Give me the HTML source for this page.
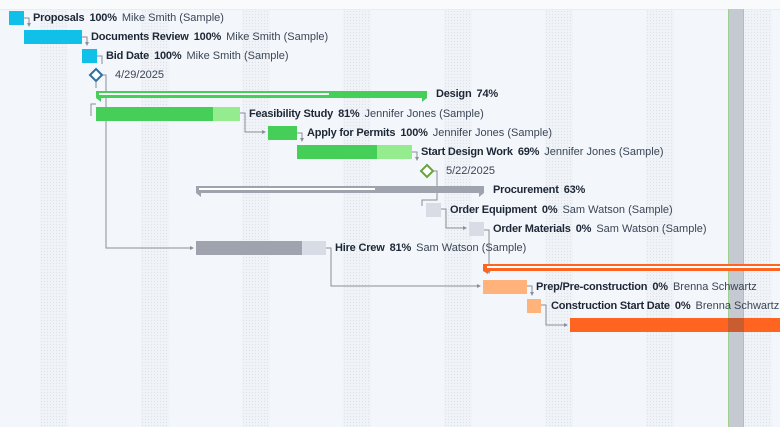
<!DOCTYPE html>
<html><head><meta charset="utf-8"><style>
body{margin:0;width:780px;height:427px;overflow:hidden;background:#f3f6fa;font-family:"Liberation Sans",sans-serif;position:relative}
.top{position:absolute;left:0;top:0;width:780px;height:9px;background:#f8fafc;border-bottom:1px solid #e8edf3}
.we{position:absolute;top:10px;height:417px;width:28px;background-image:radial-gradient(#dde1e8 0.7px,transparent 0.8px);background-size:3px 3px;background-color:#f0f3f7}
.b{position:absolute;height:14px}
.t{position:absolute;font-size:11px;color:#3b4656;white-space:nowrap;line-height:14px;top:0}
.t b{color:#1d2735;font-weight:bold;margin-right:2px;letter-spacing:-0.2px}
svg{position:absolute;left:0;top:0}
</style></head><body>
<div class="top"></div>
<div class="we" style="left:40px"></div>
<div class="we" style="left:141px"></div>
<div class="we" style="left:242px"></div>
<div class="we" style="left:343px"></div>
<div class="we" style="left:444px"></div>
<div class="we" style="left:545px"></div>
<div class="we" style="left:646px"></div>
<div class="we" style="left:744px"></div>
<div style="position:absolute;left:728px;top:9px;width:14px;height:418px;background:#c5c9d1;border-left:1px solid #9fd08f;border-right:1px solid #9fd08f"></div>

<svg width="780" height="427">
<g stroke="#8a909a" stroke-width="1" fill="none">
<path d="M24 18H29V26"/><path d="M82 37H87V45"/><path d="M97 56H102V64"/>
<path d="M96 82V88"/><path d="M101 75H106V248H192"/>
<path d="M96 104H91V116"/>
<path d="M240 113H245V132H264"/><path d="M297 133H302V141"/><path d="M412 152H417V160"/>
<path d="M432 171H437V200H422V206"/><path d="M441 209H446V228H465"/>
<path d="M484 230H489V271"/><path d="M326 248H331V286H479"/>
<path d="M527 286H532V294"/><path d="M541 305H546V325H566"/>
</g>
<g fill="#8a909a"><path d="M27 23l2 4 2-4z"/><path d="M85 42l2 4 2-4z"/><path d="M262 130v4l4-2z"/><path d="M300 138l2 4 2-4z"/><path d="M415 157l2 4 2-4z"/><path d="M190 246v4l4-2z"/><path d="M463 226v4l4-2z"/><path d="M477 284v4l4-2z"/><path d="M564 323v4l4-2z"/><path d="M487 270l2 4 2-4z"/><path d="M530 292l2 4 2-4z"/></g>
<path d="M96 69l6 6-6 6-6-6z" fill="#fff" stroke="#2f6fa0" stroke-width="2"/>
<path d="M427 165l6 6-6 6-6-6z" fill="#fff" stroke="#6aa33a" stroke-width="2"/>
<path d="M96 91H427V98L422 102V98H101V102L96 98Z" fill="#45cf58"/>
<rect x="99" y="93" width="230" height="2" fill="#fff"/>
<path d="M196 186H484V193L479 197V193H201V197L196 193Z" fill="#9ea3ad"/>
<rect x="199" y="188" width="176" height="2" fill="#fff"/>
<path d="M483 264H780V271H488V274L483 271Z" fill="#ff6420"/>
<rect x="487" y="266" width="293" height="2" fill="#fff"/>
</svg>

<div class="b" style="left:9px;top:11px;width:15px;background:#10c0e8"></div>
<div class="t" style="left:33px;top:11px"><b>Proposals</b> <b>100%</b> Mike Smith (Sample)</div>
<div class="b" style="left:24px;top:30px;width:58px;background:#10c0e8"></div>
<div class="t" style="left:91px;top:30px"><b>Documents Review</b> <b>100%</b> Mike Smith (Sample)</div>
<div class="b" style="left:82px;top:49px;width:15px;background:#10c0e8"></div>
<div class="t" style="left:106px;top:49px"><b>Bid Date</b> <b>100%</b> Mike Smith (Sample)</div>
<div class="t" style="left:115px;top:68px">4/29/2025</div>
<div class="t" style="left:436px;top:87px"><b>Design</b> <b>74%</b></div>
<div class="b" style="left:96px;top:107px;width:117px;background:#45cf58"></div>
<div class="b" style="left:213px;top:107px;width:27px;background:#94ec8e"></div>
<div class="t" style="left:249px;top:107px"><b>Feasibility Study</b> <b>81%</b> Jennifer Jones (Sample)</div>
<div class="b" style="left:268px;top:126px;width:29px;background:#45cf58"></div>
<div class="t" style="left:307px;top:126px"><b>Apply for Permits</b> <b>100%</b> Jennifer Jones (Sample)</div>
<div class="b" style="left:297px;top:145px;width:80px;background:#45cf58"></div>
<div class="b" style="left:377px;top:145px;width:35px;background:#94ec8e"></div>
<div class="t" style="left:421px;top:145px"><b>Start Design Work</b> <b>69%</b> Jennifer Jones (Sample)</div>
<div class="t" style="left:446px;top:164px">5/22/2025</div>
<div class="t" style="left:493px;top:183px"><b>Procurement</b> <b>63%</b></div>
<div class="b" style="left:426px;top:203px;width:15px;background:#d7dce5"></div>
<div class="t" style="left:450px;top:203px"><b>Order Equipment</b> <b>0%</b> Sam Watson (Sample)</div>
<div class="b" style="left:469px;top:222px;width:15px;background:#d7dce5"></div>
<div class="t" style="left:493px;top:222px"><b>Order Materials</b> <b>0%</b> Sam Watson (Sample)</div>
<div class="b" style="left:196px;top:241px;width:106px;background:#9ea3ad"></div>
<div class="b" style="left:302px;top:241px;width:24px;background:#d7dce5"></div>
<div class="t" style="left:335px;top:241px"><b>Hire Crew</b> <b>81%</b> Sam Watson (Sample)</div>
<div class="b" style="left:483px;top:280px;width:44px;background:#ffb27a"></div>
<div class="t" style="left:536px;top:280px"><b>Prep/Pre-construction</b> <b>0%</b> Brenna Schwartz</div>
<div class="b" style="left:527px;top:299px;width:14px;background:#ffb27a"></div>
<div class="t" style="left:551px;top:299px"><b>Construction Start Date</b> <b>0%</b> Brenna Schwartz</div>
<div class="b" style="left:570px;top:318px;width:210px;background:#ff6420"></div>
<div style="position:absolute;left:728px;top:318px;width:16px;height:14px;background:rgba(100,80,80,0.35)"></div>
</body></html>
